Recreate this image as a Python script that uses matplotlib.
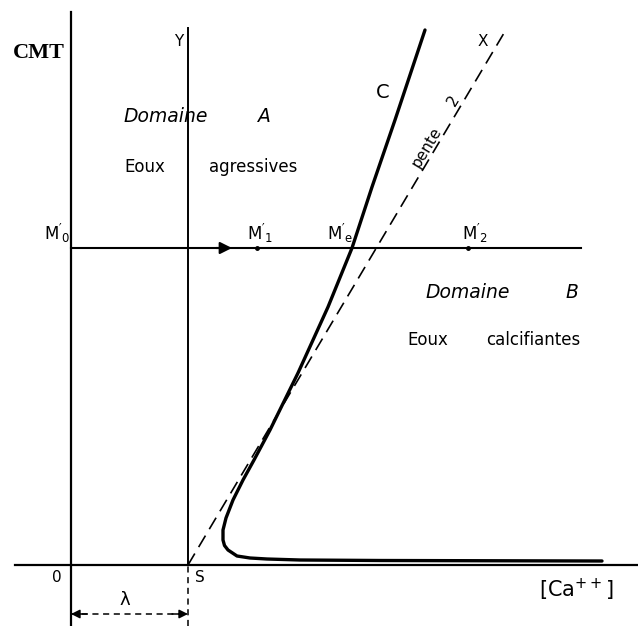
import matplotlib.pyplot as plt

plt.rcParams['font.family'] = ['DejaVu Sans']

# values (1 unit = 100 px, origin at O)
lam = 1.17            # distance O-S
m0_level = 3.17       # CMT level of the M'0 line
line_end = 5.10

curve_x = [3.54, 3.24, 3.01, 2.81, 2.57, 2.27, 1.99, 1.83, 1.72, 1.62, 1.55,
           1.52, 1.52, 1.535, 1.57, 1.66, 1.79, 1.96, 2.29, 3.09, 5.31]
curve_y = [5.35, 4.45, 3.78, 3.17, 2.58, 1.92, 1.35, 1.05, 0.85, 0.65, 0.47,
           0.35, 0.25, 0.195, 0.15, 0.09, 0.07, 0.06, 0.05, 0.045, 0.04]

pente_x = [lam, 4.36]
pente_y = [0.0, 5.37]

m_names = [r"$\mathregular{M'_1}$", r"$\mathregular{M'_e}$", r"$\mathregular{M'_2}$"]
m_x = [1.89, 2.69, 4.04]
m_dots = [1.86, 3.97]

fig = plt.figure(figsize=(6.38, 6.26), dpi=100, facecolor='white')
ax = fig.add_axes([0, 0, 1, 1])
ax.set_xlim(-0.71, 5.67)
ax.set_ylim(-0.61, 5.65)
ax.axis('off')

k = 'black'
# axes and guide lines
ax.plot([0, 0], [-0.61, 5.53], color=k, lw=1.6)
ax.plot([-0.56, 5.67], [0, 0], color=k, lw=1.6)
ax.plot([lam, lam], [0, 5.37], color=k, lw=1.4)
ax.plot([lam, lam], [-0.61, 0], color=k, lw=1.1, ls=(0, (4, 3)))
ax.plot([0, line_end], [m0_level, m0_level], color=k, lw=1.5)
ax.plot(pente_x, pente_y, color=k, lw=1.2, ls=(0, (8, 4.5)))
ax.plot(curve_x, curve_y, color=k, lw=2.4, solid_capstyle='round',
        solid_joinstyle='round')
ax.plot(m_dots, [m0_level] * len(m_dots), 'o', color=k, ms=2.5)

# arrow on the M'0 line
ax.annotate('', xy=(1.61, m0_level), xytext=(1.45, m0_level),
            arrowprops=dict(arrowstyle='-|>', color=k, lw=1.5,
                            mutation_scale=18, shrinkA=0, shrinkB=0))

# lambda bracket
yb = -0.49
ax.plot([0, lam], [yb, yb], color=k, lw=1.1, ls=(0, (4, 3)))
for x0, x1 in [(0.16, 0.0), (lam - 0.16, lam)]:
    ax.annotate('', xy=(x1, yb), xytext=(x0, yb),
                arrowprops=dict(arrowstyle='-|>', color=k, lw=1.1,
                                mutation_scale=13, shrinkA=0, shrinkB=0))

# labels
ax.text(-0.58, 5.07, 'CMT', family='Liberation Serif', weight='bold',
        fontsize=16, ha='left', va='baseline')
ax.text(1.08, 5.24, 'Y', fontsize=11, ha='center', va='center')
ax.text(4.12, 5.23, 'X', fontsize=11, ha='center', va='center')
ax.text(3.12, 4.73, 'C', fontsize=14, ha='center', va='center')
ax.text(3.56, 4.18, 'pente', fontsize=11, rotation=59, ha='center', va='center')
ax.text(3.82, 4.64, '2', fontsize=11, rotation=59, ha='center', va='center')

ax.text(0.52, 4.49, 'Domaine', fontsize=13.5, style='italic', va='center')
ax.text(1.87, 4.49, 'A', fontsize=13.5, style='italic', va='center')
ax.text(0.53, 3.98, 'Eoux', fontsize=12, va='center')
ax.text(1.38, 3.98, 'agressives', fontsize=12, va='center')
ax.text(3.54, 2.72, 'Domaine', fontsize=13.5, style='italic', va='center')
ax.text(4.94, 2.72, 'B', fontsize=13.5, style='italic', va='center')
ax.text(3.36, 2.25, 'Eoux', fontsize=12, va='center')
ax.text(4.15, 2.25, 'calcifiantes', fontsize=12, va='center')

ax.text(-0.01, m0_level + 0.03, r"$\mathregular{M'_0}$", fontsize=12,
        ha='right', va='bottom')
for name, x in zip(m_names, m_x):
    ax.text(x, m0_level + 0.03, name, fontsize=12, ha='center', va='bottom')

ax.text(-0.14, -0.13, '0', fontsize=11, ha='center', va='center')
ax.text(1.29, -0.13, 'S', fontsize=11, ha='center', va='center')
ax.text(0.54, -0.35, 'λ', fontsize=13, ha='center', va='center')
ax.text(5.05, -0.25, r'[Ca$^{++}$]', fontsize=15, ha='center', va='center')

fig.savefig('out.png', dpi=100, facecolor='white')
